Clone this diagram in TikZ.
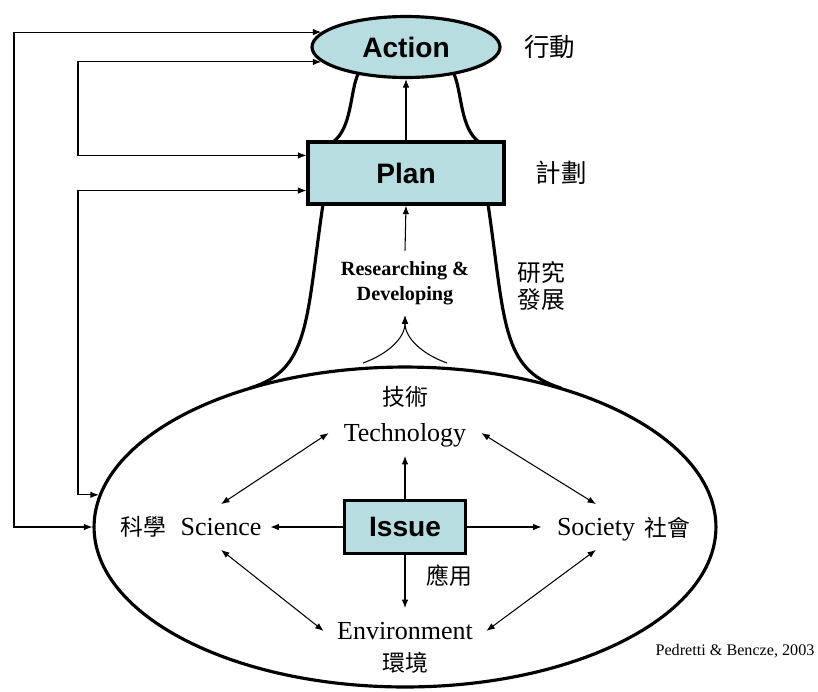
\documentclass[tikz,border=0pt]{standalone}
\usepackage{fontspec}
\setmainfont{Liberation Serif}
\newfontfamily\headfont{Liberation Sans}
\newfontfamily\cjk{Noto Sans CJK TC}
\usetikzlibrary{arrows.meta,positioning,shapes.geometric}
\definecolor{paleteal}{RGB}{183,221,224}
\tikzset{
  oval/.style={ellipse, draw=black, line width=1.8pt, fill=paleteal, inner sep=0pt,
               font=\headfont\bfseries\fontsize{16}{18}\selectfont},
  box/.style={rectangle, draw=black, line width=1.8pt, fill=paleteal, inner sep=0pt,
              font=\headfont\bfseries\fontsize{16}{18}\selectfont},
  lbl/.style={font=\fontsize{14.8}{17}\selectfont, inner sep=0pt, minimum height=0.9cm,
              text height=10.5pt, text depth=0.5pt},
  zh/.style={font=\cjk\fontsize{13}{15}\selectfont, inner sep=0pt},
  neck/.style={line width=1.8pt},
  arr/.style={-{Latex[length=1.7mm,width=1.3mm]}, line width=0.6pt},
  darr/.style={{Latex[length=1.7mm,width=1.3mm]}-{Latex[length=1.7mm,width=1.3mm]}, line width=0.6pt},
}
\begin{document}
\begin{tikzpicture}[x=0.02cm, y=-0.02cm]
  \useasboundingbox (0,0) rectangle (818,691);
  % flask: bulb, neck, top
  \node[ellipse, draw=black, line width=1.8pt, minimum width=12.44cm, minimum height=6.4cm] (bulb) at (405,527) {};
  \node[oval, minimum width=3.76cm, minimum height=1.22cm] (act) at (406,47) {Action};
  \node[box, minimum width=3.92cm, minimum height=1.24cm] (plan) at (406,173) {Plan};
  \node[zh, font=\cjk\fontsize{14.5}{16}\selectfont, right=0.45cm of act] (actzh) {行動};
  \node[zh, font=\cjk\fontsize{14.5}{16}\selectfont, right=0.6cm of plan] (planzh) {計劃};
  \draw[neck] (358,74) .. controls (350,92) and (352,128) .. (333,142);
  \draw[neck] (454,74) .. controls (462,92) and (460,128) .. (479,142);
  \draw[neck] (323,204) .. controls (306,320) and (310,370) .. (250,388);
  \draw[neck] (488,204) .. controls (505,320) and (501,370) .. (561,388);
  % researching
  \node[font=\bfseries\fontsize{11.5}{14.5}\selectfont, align=center, inner xsep=0pt, inner ysep=0.2cm] (rd) at (405,283) {Researching \&\\Developing};
  \node[zh, font=\cjk\fontsize{13.5}{15.9}\selectfont, align=center] (rdzh) at (541,286) {研究\\發展};
  \draw[arr] (plan.north) -- (act.south);
  \draw[arr] (rd.north) -- (plan.south);
  \coordinate (fkL) at (363,363);
  \coordinate (fkR) at (447,363);
  \draw[arr] (fkL) .. controls (388,354) and (405,338) .. (rd.south);
  \draw[arr] (fkR) .. controls (422,354) and (405,338) .. (rd.south);
  % inside the bulb
  \node[box, minimum width=2.42cm, minimum height=1.06cm] (issue) at (405,527) {Issue};
  \node[lbl, minimum width=3.04cm] (tech) at (405,433) {Technology};
  \node[zh, above=0.05cm of tech] (techzh) {技術};
  \node[lbl, minimum width=3.24cm] (env) at (405,631) {Environment};
  \node[zh, below=-0.05cm of env] (envzh) {環境};
  \node[lbl, minimum width=1.96cm] (sci) at (221,527) {Science};
  \node[zh, left=0.1cm of sci] (scizh) {科學};
  \node[lbl, minimum width=2.16cm] (soc) at (596,527) {Society};
  \node[zh] (soczh) at (667,528) {社會};
  \node[zh] (apzh) at (449,576) {應用};
  \draw[arr] (issue.north) -- (tech.south);
  \draw[arr] (issue.south) -- (env.north);
  \draw[arr] (issue.west) -- (sci.east);
  \draw[arr] (issue.east) -- (soc.west);
  \draw[darr] (tech.west) -- (sci.north);
  \draw[darr] (tech.east) -- (soc.north);
  \draw[darr] (sci.south) -- (env.west);
  \draw[darr] (soc.south) -- (env.east);
  % feedback loops
  \coordinate (fbA) at (14,300);
  \coordinate (fbB) at (78,100);
  \coordinate (fbC) at (78,350);
  \draw[darr] (bulb.west) -| (fbA) |- (act.170);
  \draw[darr] (plan.170) -| (fbB) |- (act.190);
  \draw[darr] (bulb.174) -| (fbC) |- (plan.190);
  \node[font=\fontsize{9.2}{11}\selectfont] (src) at (735,651) {Pedretti \& Bencze, 2003};
\end{tikzpicture}
\end{document}
